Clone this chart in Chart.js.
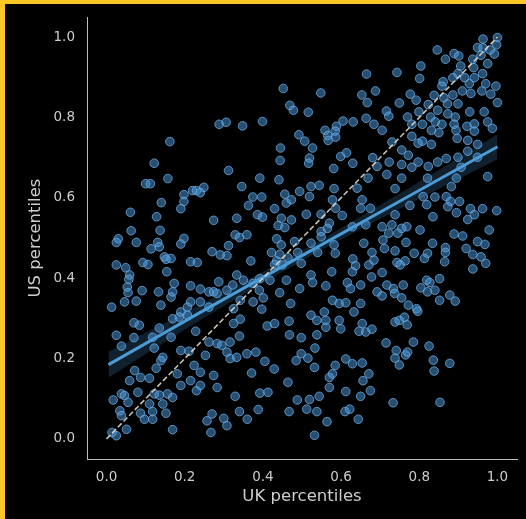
<!DOCTYPE html>
<html>
<head>
<meta charset="utf-8">
<script src="https://cdn.jsdelivr.net/npm/chart.js@4.4.1/dist/chart.umd.min.js"></script>
<style>
  html, body { margin: 0; padding: 0; background: #000; }
  #frame {
    position: absolute; left: 0; top: 0;
    width: 521px; height: 515px;
    border-left: 5px solid #f9c623;
    border-top: 4px solid #f9c623;
    background: #000;
  }
  canvas { display: block; }
</style>
</head>
<body>
<div id="frame"><canvas id="chart" width="521" height="515"></canvas></div>
<script>
// UK vs US percentile pairs, grouped by area of the plot
const ukTopMid = [0.288,0.306,0.162,0.122,0.312,0.665,0.452,0.548,0.653,0.667,
  0.469,0.478,0.516,0.399,0.348,0.664,0.605,0.631,0.588,0.559,
  0.585,0.566,0.586,0.567,0.492,0.507,0.445,0.527,0.614,0.599,
  0.444,0.519,0.517,0.630,0.581,0.681];
const usTopMid = [0.783,0.788,0.740,0.686,0.668,0.908,0.872,0.861,0.856,0.837,
  0.830,0.818,0.813,0.790,0.779,0.798,0.791,0.789,0.778,0.768,
  0.766,0.755,0.751,0.743,0.757,0.741,0.724,0.724,0.712,0.703,
  0.693,0.699,0.686,0.686,0.673,0.700];

const ukTopRight = [1.000,0.963,0.998,0.949,0.846,0.889,0.901,0.867,0.958,0.992,
  0.937,0.906,0.975,0.939,0.804,0.743,0.899,0.962,0.801,0.916,
  0.941,0.861,0.886,0.928,0.970,0.996,0.858,0.688,0.910,0.932,
  0.960,0.983,0.777,0.838,0.886,0.863,0.792,0.749,0.823,0.872,
  0.899,1.000,0.716,0.799,0.847,0.873,0.929,0.966,0.722,0.770,
  0.829,0.892,0.684,0.705,0.781,0.808,0.841,0.858,0.889,0.922,
  0.941,0.975,0.987,0.831,0.850,0.941,0.894,0.781,0.808,0.831,
  0.730,0.897,0.924,0.797,0.949,0.924,0.755,0.772,0.723,0.797,
  0.847,0.869,0.899,0.949,0.755,0.781,0.823,0.907,0.692,0.963,
  0.981];
const usTopRight = [0.999,0.995,0.981,0.974,0.968,0.959,0.953,0.945,0.955,0.958,
  0.945,0.928,0.934,0.924,0.928,0.912,0.909,0.909,0.897,0.899,
  0.899,0.889,0.899,0.884,0.884,0.878,0.878,0.866,0.866,0.860,
  0.866,0.858,0.858,0.855,0.856,0.849,0.843,0.836,0.832,0.834,
  0.834,0.837,0.816,0.814,0.818,0.809,0.814,0.814,0.803,0.801,
  0.801,0.801,0.783,0.768,0.783,0.783,0.789,0.783,0.783,0.778,
  0.784,0.789,0.773,0.768,0.762,0.766,0.768,0.753,0.741,0.733,
  0.739,0.748,0.743,0.736,0.733,0.716,0.719,0.706,0.689,0.689,
  0.689,0.698,0.701,0.701,0.683,0.676,0.678,0.676,0.678,0.973,
  0.968];

const ukMidLeft = [0.100,0.112,0.157,0.220,0.230,0.249,0.198,0.240,0.140,0.198,
  0.190,0.061,0.128,0.274,0.063,0.137,0.030,0.025,0.076,0.131,
  0.198,0.190,0.135,0.114,0.312,0.270,0.291,0.308,0.148,0.165,
  0.152,0.215,0.232,0.025,0.049,0.093,0.106,0.154,0.059,0.057,
  0.173,0.215,0.287,0.240,0.262,0.274,0.053,0.055,0.091,0.133,
  0.169,0.165,0.046,0.076,0.013,0.139,0.215,0.240,0.207,0.262,
  0.283,0.308];
const usMidLeft = [0.635,0.635,0.648,0.618,0.618,0.626,0.608,0.613,0.588,0.591,
  0.573,0.564,0.553,0.544,0.518,0.519,0.498,0.489,0.489,0.489,
  0.499,0.485,0.478,0.473,0.481,0.466,0.458,0.456,0.453,0.449,
  0.447,0.441,0.439,0.433,0.426,0.439,0.434,0.416,0.408,0.397,
  0.387,0.381,0.391,0.373,0.366,0.366,0.378,0.364,0.369,0.366,
  0.366,0.353,0.341,0.343,0.328,0.333,0.341,0.341,0.328,0.328,
  0.362,0.370];

const ukLowLeft = [0.190,0.169,0.186,0.207,0.070,0.084,0.135,0.025,0.070,0.118,
  0.165,0.228,0.038,0.122,0.190,0.211,0.253,0.262,0.283,0.295,
  0.316,0.144,0.139,0.308,0.316,0.127,0.072,0.181,0.224,0.240,
  0.274,0.059,0.087,0.110,0.190,0.215,0.230,0.240,0.283,0.017,
  0.038,0.046,0.055,0.080,0.122,0.135,0.156,0.169,0.144,0.110,
  0.034,0.038,0.087,0.097,0.118,0.118,0.152,0.014,0.025,0.051,
  0.169,0.257,0.270,0.300,0.308,0.267];
const usLowLeft = [0.316,0.299,0.303,0.308,0.289,0.283,0.276,0.258,0.252,0.253,
  0.253,0.268,0.231,0.226,0.220,0.218,0.208,0.241,0.237,0.233,
  0.241,0.203,0.195,0.216,0.200,0.176,0.170,0.162,0.183,0.166,
  0.158,0.145,0.153,0.151,0.133,0.145,0.120,0.133,0.128,0.097,
  0.112,0.108,0.091,0.116,0.112,0.109,0.112,0.103,0.087,0.087,
  0.070,0.058,0.064,0.049,0.068,0.049,0.064,0.016,0.008,0.024,
  0.023,0.045,0.062,0.051,0.033,0.016];

const ukCentre = [0.346,0.392,0.441,0.523,0.544,0.582,0.641,0.669,0.494,0.519,
  0.456,0.374,0.397,0.363,0.460,0.473,0.578,0.586,0.654,0.650,
  0.675,0.430,0.511,0.549,0.603,0.386,0.399,0.333,0.447,0.473,
  0.439,0.456,0.570,0.629,0.663,0.549,0.549,0.329,0.340,0.359,
  0.435,0.481,0.523,0.582,0.658,0.447,0.422,0.443,0.489,0.435,
  0.430,0.450,0.498,0.540,0.585,0.630,0.671,0.637,0.629,0.369,
  0.523,0.576,0.333,0.350,0.392,0.418,0.460,0.323,0.391,0.443,
  0.561,0.616,0.624,0.650,0.342,0.375,0.471,0.578,0.595,0.612,
  0.650,0.494,0.527,0.401,0.464,0.375,0.565,0.325,0.397];
const usCentre = [0.628,0.649,0.645,0.628,0.631,0.623,0.624,0.649,0.616,0.603,
  0.609,0.602,0.602,0.581,0.587,0.595,0.595,0.574,0.595,0.574,
  0.574,0.573,0.559,0.559,0.556,0.558,0.552,0.549,0.549,0.545,
  0.531,0.526,0.537,0.528,0.533,0.516,0.503,0.508,0.501,0.508,
  0.498,0.491,0.487,0.483,0.487,0.483,0.464,0.459,0.464,0.443,
  0.434,0.433,0.437,0.464,0.462,0.448,0.433,0.431,0.416,0.443,
  0.408,0.416,0.408,0.395,0.399,0.395,0.395,0.383,0.370,0.364,
  0.381,0.389,0.374,0.383,0.345,0.341,0.337,0.345,0.337,0.339,
  0.337,0.374,0.389,0.351,0.451,0.387,0.524,0.324,0.323];

const ukMidRight = [0.755,0.821,0.895,0.975,0.738,0.882,0.810,0.840,0.869,0.880,
  0.903,0.776,0.819,0.873,0.895,0.931,0.962,0.998,0.941,0.738,
  0.835,0.924,0.705,0.730,0.755,0.768,0.802,0.979,0.722,0.745,
  0.889,0.911,0.707,0.766,0.834,0.949,0.968,0.711,0.738,0.787,
  0.821,0.867,0.867,0.920,0.679,0.937,0.958,0.813,0.684,0.743,
  0.764,0.751,0.865,0.970,0.705,0.678,0.937,0.819,0.827,0.852,
  0.717,0.734,0.759,0.804,0.821,0.840,0.692,0.705,0.737,0.755,
  0.878,0.852,0.892,0.772,0.793,0.717];
const usMidRight = [0.649,0.649,0.649,0.653,0.623,0.628,0.603,0.602,0.603,0.591,
  0.591,0.581,0.583,0.578,0.563,0.573,0.573,0.568,0.558,0.558,
  0.553,0.546,0.528,0.533,0.524,0.528,0.520,0.520,0.512,0.512,
  0.510,0.505,0.495,0.489,0.487,0.491,0.484,0.474,0.468,0.462,
  0.462,0.476,0.464,0.474,0.464,0.459,0.453,0.449,0.445,0.439,
  0.443,0.433,0.441,0.437,0.414,0.403,0.423,0.395,0.389,0.399,
  0.383,0.374,0.383,0.376,0.366,0.370,0.366,0.356,0.362,0.351,
  0.358,0.345,0.343,0.333,0.324,0.658];

const ukLowMid = [0.342,0.325,0.523,0.538,0.557,0.561,0.561,0.595,0.599,0.633,
  0.654,0.646,0.663,0.411,0.430,0.467,0.468,0.498,0.538,0.340,
  0.333,0.359,0.382,0.405,0.429,0.533,0.498,0.515,0.532,0.485,
  0.612,0.629,0.585,0.654,0.371,0.464,0.570,0.578,0.671,0.656,
  0.570,0.329,0.392,0.413,0.612,0.675,0.650,0.488,0.519,0.544,
  0.340,0.388,0.467,0.512,0.538,0.610,0.622,0.360,0.564,0.644,
  0.532];
const usLowMid = [0.298,0.287,0.308,0.295,0.316,0.295,0.278,0.295,0.274,0.316,
  0.287,0.268,0.266,0.281,0.287,0.293,0.259,0.252,0.259,0.256,
  0.203,0.212,0.216,0.193,0.174,0.226,0.212,0.201,0.178,0.195,
  0.199,0.187,0.183,0.189,0.164,0.141,0.153,0.162,0.162,0.145,
  0.128,0.106,0.114,0.116,0.118,0.120,0.106,0.097,0.098,0.106,
  0.068,0.073,0.068,0.074,0.068,0.068,0.074,0.049,0.043,0.049,
  0.009];

const ukLowRight = [0.796,0.738,0.749,0.762,0.769,0.679,0.715,0.785,0.825,0.741,
  0.738,0.749,0.765,0.770,0.836,0.838,0.878,0.733,0.853];
const usLowRight = [0.318,0.291,0.295,0.303,0.284,0.273,0.239,0.241,0.231,0.220,
  0.201,0.184,0.209,0.216,0.196,0.169,0.188,0.090,0.091];

// Regression line and its 95% confidence band
const fitUk = [0.005, 0.25, 0.5, 0.75, 1.0];
const fitUs = [0.185, 0.3205, 0.456, 0.5915, 0.727];
const bandHalfWidth = [0.032, 0.019, 0.013, 0.019, 0.031];

// Axis ticks and the equal-percentile reference line
const tickValues = [0.0, 0.2, 0.4, 0.6, 0.8, 1.0];
const diagonalUk = [0, 1];
const diagonalUs = [0, 1];

const ukAll = [].concat(ukTopMid, ukTopRight, ukMidLeft, ukLowLeft, ukCentre, ukMidRight, ukLowMid, ukLowRight);
const usAll = [].concat(usTopMid, usTopRight, usMidLeft, usLowLeft, usCentre, usMidRight, usLowMid, usLowRight);

const scatterPoints = ukAll.map((x, i) => ({ x: x, y: usAll[i] }));
const fitLine = fitUk.map((x, i) => ({ x: x, y: fitUs[i] }));
const bandUpper = fitUk.map((x, i) => ({ x: x, y: fitUs[i] + bandHalfWidth[i] }));
const bandLower = fitUk.map((x, i) => ({ x: x, y: fitUs[i] - bandHalfWidth[i] }));
const diagonal = diagonalUk.map((x, i) => ({ x: x, y: diagonalUs[i] }));

const fontFamily = "'DejaVu Sans', sans-serif";
const textColor = '#cdcdcd';

new Chart(document.getElementById('chart'), {
  type: 'scatter',
  data: {
    datasets: [
      {
        label: 'UK = US',
        data: diagonal,
        showLine: true,
        pointRadius: 0,
        borderColor: 'rgba(222,212,196,0.9)',
        borderWidth: 1.6,
        borderDash: [5.5, 2.6],
        fill: false,
        order: 0
      },
      {
        label: 'fit',
        data: fitLine,
        showLine: true,
        pointRadius: 0,
        borderColor: '#4b9bd6',
        borderWidth: 3,
        fill: false,
        order: 1
      },
      {
        label: 'band upper',
        data: bandUpper,
        showLine: true,
        pointRadius: 0,
        borderWidth: 0,
        borderColor: 'rgba(0,0,0,0)',
        tension: 0.35,
        fill: false,
        order: 2
      },
      {
        label: 'band lower',
        data: bandLower,
        showLine: true,
        pointRadius: 0,
        borderWidth: 0,
        borderColor: 'rgba(0,0,0,0)',
        backgroundColor: 'rgba(80,160,225,0.2)',
        tension: 0.35,
        fill: '-1',
        order: 2
      },
      {
        label: 'countries',
        data: scatterPoints,
        pointRadius: 4.3,
        pointBackgroundColor: 'rgba(80,155,222,0.5)',
        pointBorderColor: 'rgba(105,172,230,0.78)',
        pointBorderWidth: 1,
        order: 3
      }
    ]
  },
  options: {
    responsive: false,
    animation: false,
    events: [],
    layout: { padding: { left: 0, top: 13, right: 9, bottom: 0 } },
    plugins: {
      legend: { display: false },
      tooltip: { enabled: false }
    },
    scales: {
      x: {
        type: 'linear',
        min: -0.05,
        max: 1.05,
        grid: { display: false, drawTicks: false },
        border: { display: true, color: '#bdbdbd', width: 1 },
        afterBuildTicks: (scale) => { scale.ticks = tickValues.map(v => ({ value: v })); },
        afterFit: (scale) => {
          scale.height = 60;
          scale.paddingLeft = 0;
          scale.paddingRight = 0;
        },
        ticks: {
          color: textColor,
          padding: 10,
          maxRotation: 0,
          font: { family: fontFamily, size: 13.5 },
          callback: (v) => Number(v).toFixed(1)
        },
        title: {
          display: true,
          text: 'UK percentiles',
          color: textColor,
          font: { family: fontFamily, size: 16.5 },
          padding: { top: 0, bottom: 12 }
        }
      },
      y: {
        type: 'linear',
        min: -0.05,
        max: 1.05,
        grid: { display: false, drawTicks: false },
        border: { display: true, color: '#bdbdbd', width: 1 },
        afterBuildTicks: (scale) => { scale.ticks = tickValues.map(v => ({ value: v })); },
        afterFit: (scale) => {
          scale.width = 82;
          scale.paddingTop = 0;
          scale.paddingBottom = 0;
        },
        ticks: {
          color: textColor,
          padding: 12,
          font: { family: fontFamily, size: 13.5 },
          callback: (v) => Number(v).toFixed(1)
        },
        title: {
          display: true,
          text: 'US percentiles',
          color: textColor,
          font: { family: fontFamily, size: 16.5 },
          padding: { top: 20.5, bottom: 0 }
        }
      }
    }
  }
});
</script>
</body>
</html>
